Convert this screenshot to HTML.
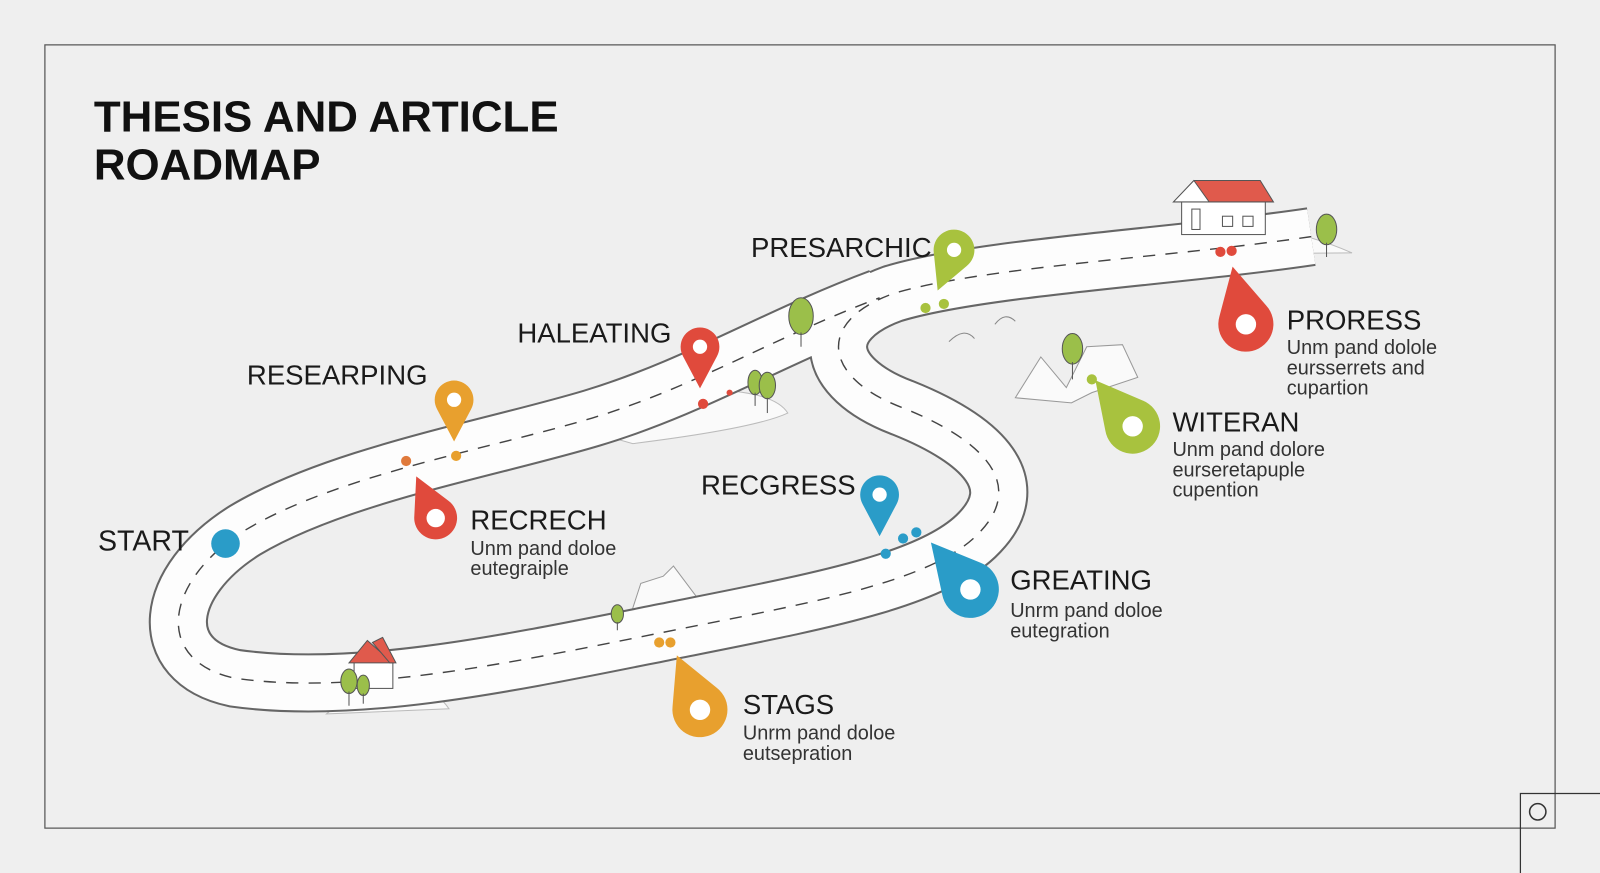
<!DOCTYPE html>
<html><head><meta charset="utf-8"><style>
html,body{margin:0;padding:0;background:#efefef;}
svg{display:block}
text{font-family:"Liberation Sans",Arial,sans-serif;fill:#1a1a1a}
.h{font-size:27px}
.d{font-size:19.5px;fill:#333}
</style></head><body>
<svg width="1600" height="873" viewBox="0 0 1568 856" preserveAspectRatio="none" xmlns="http://www.w3.org/2000/svg">
<defs>
<path id="pin" d="M-0.87,-0.5 L0,-2.15 L0.87,-0.5 A1 1 0 1 1 -0.87,-0.5 Z"/>
</defs>
<rect x="0" y="0" width="1568" height="856" fill="#efefef"/>
<rect x="44" y="44" width="1480" height="768" fill="none" stroke="#555" stroke-width="1.2"/>
<path d="M1490,856 V778 H1568" fill="none" stroke="#333" stroke-width="1.2"/>
<circle cx="1507" cy="796" r="8" fill="none" stroke="#333" stroke-width="1.5"/>

<text x="92" y="129" style="font-size:43px;font-weight:bold;fill:#111">THESIS AND ARTICLE</text>
<text x="92" y="176" style="font-size:43px;font-weight:bold;fill:#111">ROADMAP</text>

<!-- hills -->
<path d="M1045,250 Q1120,215 1180,225 Q1250,215 1325,248 Z" fill="#fafafa" stroke="#bbb"/>
<path d="M585,425 Q640,385 700,382 Q760,385 772,405 Q740,420 620,435 Z" fill="#fafafa" stroke="#bbb"/>
<path d="M320,700 Q360,665 410,672 Q430,680 440,695 Z" fill="#fafafa" stroke="#bbb"/>
<path d="M995,390 L1020,350 L1045,380 L1065,340 L1100,338 L1115,370 L1070,385 L1050,395 Z" fill="#fafafa" stroke="#999"/>
<path d="M615,612 L628,572 L650,565 L660,555 L690,595 L665,610 Z" fill="#fafafa" stroke="#999"/>
<path d="M930,335 Q945,320 955,332 M975,318 Q985,305 995,315" fill="none" stroke="#888"/>

<!-- road -->
<g fill="none">
<path id="rd" d="M1285,232 C1150,252 960,262 875,288 C800,315 805,370 885,400 C965,432 1005,475 960,522 C915,570 800,590 650,620 C500,650 350,682 230,665 C150,648 160,570 240,520 C330,466 480,440 580,410 C680,380 760,330 862,292"/>
<use href="#rd" stroke="#666" stroke-width="58"/>
<use href="#rd" stroke="#fdfdfd" stroke-width="54"/>
<use href="#rd" stroke="#444" stroke-width="1.4" stroke-dasharray="12 10"/>
</g>

<!-- houses -->
<g>
<rect x="1158" y="195" width="82" height="35" fill="#fff" stroke="#555"/>
<path d="M1150,198 L1170,177 L1235,177 L1248,198 Z" fill="#e05a4c" stroke="#555"/>
<path d="M1150,198 L1170,177 L1185,198 Z" fill="#fff" stroke="#555"/>
<rect x="1168" y="205" width="8" height="20" fill="#fff" stroke="#555"/>
<rect x="1198" y="212" width="10" height="10" fill="#fff" stroke="#555"/>
<rect x="1218" y="212" width="10" height="10" fill="#fff" stroke="#555"/>
</g>
<g>
<rect x="347" y="647" width="38" height="28" fill="#fff" stroke="#555"/>
<path d="M342,650 L360,628 L385,650 Z" fill="#e05a4c" stroke="#555"/>
<path d="M365,630 L375,625 L388,650 L382,650 Z" fill="#e05a4c" stroke="#555"/>
</g>
<!-- trees -->
<g stroke="#555" stroke-width="1">
<ellipse cx="1300" cy="225" rx="10" ry="15" fill="#9bbf4a"/><line x1="1300" y1="238" x2="1300" y2="252"/>
<ellipse cx="785" cy="310" rx="12" ry="18" fill="#9bbf4a"/><line x1="785" y1="326" x2="785" y2="340"/>
<ellipse cx="740" cy="375" rx="7" ry="12" fill="#9bbf4a"/><line x1="740" y1="385" x2="740" y2="398"/>
<ellipse cx="752" cy="378" rx="8" ry="13" fill="#9bbf4a"/><line x1="752" y1="390" x2="752" y2="405"/>
<ellipse cx="1051" cy="342" rx="10" ry="15" fill="#9bbf4a"/><line x1="1051" y1="355" x2="1051" y2="372"/>
<ellipse cx="605" cy="602" rx="6" ry="9" fill="#9bbf4a"/><line x1="605" y1="610" x2="605" y2="618"/>
<ellipse cx="342" cy="668" rx="8" ry="12" fill="#9bbf4a"/><line x1="342" y1="678" x2="342" y2="692"/>
<ellipse cx="356" cy="672" rx="6" ry="10" fill="#9bbf4a"/><line x1="356" y1="680" x2="356" y2="690"/>
</g>

<!-- start -->
<circle cx="221" cy="533" r="14" fill="#2a9cc8"/>
<text x="96" y="540" style="font-size:28px">START</text>

<!-- small pins (pointing down) -->
<g transform="translate(445,392) rotate(180) scale(19)"><use href="#pin" fill="#e8a02e"/></g><circle cx="445" cy="392" r="7" fill="#fff"/>
<circle cx="447" cy="447" r="5" fill="#e8a02e"/><circle cx="398" cy="452" r="5" fill="#e07a3c"/>
<g transform="translate(686,340) rotate(180) scale(19)"><use href="#pin" fill="#e04a3c"/></g><circle cx="686" cy="340" r="7" fill="#fff"/>
<circle cx="689" cy="396" r="5" fill="#e04a3c"/><circle cx="715" cy="385" r="3" fill="#e04a3c"/>
<g transform="translate(935,245) rotate(202) scale(20)"><use href="#pin" fill="#a8c23e"/></g><circle cx="935" cy="245" r="7" fill="#fff"/>
<circle cx="907" cy="302" r="5" fill="#a8c23e"/><circle cx="925" cy="298" r="5" fill="#a8c23e"/>
<g transform="translate(862,485) rotate(180) scale(19)"><use href="#pin" fill="#2a9cc8"/></g><circle cx="862" cy="485" r="7" fill="#fff"/>
<circle cx="868" cy="543" r="5" fill="#2a9cc8"/><circle cx="885" cy="528" r="5" fill="#2a9cc8"/><circle cx="898" cy="522" r="5" fill="#2a9cc8"/>

<!-- big pins -->
<g transform="translate(427,508) rotate(-25) scale(21)"><use href="#pin" fill="#e04a3c"/></g><circle cx="427" cy="508" r="9" fill="#fff"/>
<g transform="translate(686,696) rotate(-23) scale(27)"><use href="#pin" fill="#e8a02e"/></g><circle cx="686" cy="696" r="10" fill="#fff"/>
<circle cx="646" cy="630" r="5" fill="#e8a02e"/><circle cx="657" cy="630" r="5" fill="#e8a02e"/>
<g transform="translate(951,578) rotate(-40) scale(28)"><use href="#pin" fill="#2a9cc8"/></g><circle cx="951" cy="578" r="10" fill="#fff"/>
<g transform="translate(1110,418) rotate(-39) scale(27)"><use href="#pin" fill="#a8c23e"/></g><circle cx="1110" cy="418" r="10" fill="#fff"/>
<circle cx="1070" cy="372" r="5" fill="#a8c23e"/>
<g transform="translate(1221,318) rotate(-13) scale(27)"><use href="#pin" fill="#e04a3c"/></g><circle cx="1221" cy="318" r="10" fill="#fff"/>
<circle cx="1196" cy="247" r="5" fill="#e04a3c"/><circle cx="1207" cy="246" r="5" fill="#e04a3c"/>

<!-- labels -->
<text class="h" x="242" y="377">RESEARPING</text>
<text class="h" x="507" y="336">HALEATING</text>
<text class="h" x="736" y="252">PRESARCHIC</text>
<text class="h" x="687" y="485">RECGRESS</text>
<text class="h" x="461" y="519">RECRECH</text>
<text class="d" x="461" y="544">Unm pand doloe</text>
<text class="d" x="461" y="564">eutegraiple</text>
<text class="h" x="990" y="578">GREATING</text>
<text class="d" x="990" y="605">Unrm pand doloe</text>
<text class="d" x="990" y="625">eutegration</text>
<text class="h" x="728" y="700">STAGS</text>
<text class="d" x="728" y="725">Unrm pand doloe</text>
<text class="d" x="728" y="745">eutsepration</text>
<text class="h" x="1149" y="423">WITERAN</text>
<text class="d" x="1149" y="447">Unm pand dolore</text>
<text class="d" x="1149" y="467">eurseretapuple</text>
<text class="d" x="1149" y="487">cupention</text>
<text class="h" x="1261" y="323">PRORESS</text>
<text class="d" x="1261" y="347">Unm pand dolole</text>
<text class="d" x="1261" y="367">eursserrets and</text>
<text class="d" x="1261" y="387">cupartion</text>
</svg>
</body></html>
